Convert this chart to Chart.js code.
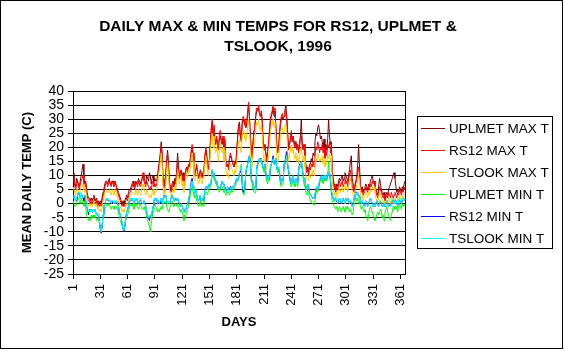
<!DOCTYPE html>
<html>
<head>
<meta charset="utf-8">
<script src="https://cdn.jsdelivr.net/npm/chart.js@4.4.1/dist/chart.umd.min.js"></script>
<style>
  html, body { margin: 0; padding: 0; background: #fff; }
  #chart { display: block; }
</style>
</head>
<body>
<canvas id="chart" width="565" height="351"></canvas>
<script>
// daily values, one line per month (1996, leap year)
const days = Array.from({ length: 366 }, (_, i) => String(i + 1));
const dayTicks = [1, 31, 61, 91, 121, 151, 181, 211, 241, 271, 301, 331, 361];
const yTicks = [40, 35, 30, 25, 20, 15, 10, 5, 0, -5, -10, -15, -20, -25];

const seriesNames = ['UPLMET MAX T', 'RS12 MAX T', 'TSLOOK MAX T', 'UPLMET MIN T', 'RS12 MIN T', 'TSLOOK MIN T'];

const uplmetMax = [
  10,11,7,6,9,8,7,6,8,10,12,14,9,7,8,5,3,2,2,1,2,1,2,3,2,1,2,0,1,0,1,
  0,2,4,5,7,8,8,7,8,9,7,7,8,8,7,8,7,6,5,4,3,2,1,0,1,0,1,2,3,
  2,4,5,5,6,7,8,7,6,8,7,7,9,8,7,8,9,10,9,8,7,10,9,8,11,10,7,9,10,8,9,
  8,8,10,13,15,18,22,18,9,6,5,11,16,19,14,8,6,5,7,8,7,9,8,12,18,13,10,11,12,9,
  11,7,9,12,13,12,14,13,16,18,20,17,12,10,12,13,11,9,10,12,11,10,11,12,16,19,17,13,12,15,21,
  26,29,24,27,22,21,23,22,19,23,24,22,21,23,19,22,15,13,14,13,16,17,16,15,14,13,15,14,19,24,
  28,29,24,22,28,30,29,28,27,28,32,35,30,24,19,17,22,26,28,31,33,33,34,32,31,32,29,22,20,21,18,
  16,19,21,25,29,31,32,34,31,33,27,21,18,20,24,28,30,31,30,31,33,35,31,25,20,21,23,25,22,24,22,
  21,22,20,21,19,21,24,30,22,20,21,18,14,12,13,11,14,14,16,15,18,17,22,25,24,27,28,26,23,24,
  22,20,23,19,21,19,23,30,24,21,22,12,9,7,6,5,7,6,8,9,8,9,10,8,9,11,10,9,8,10,12,
  15,17,9,7,5,7,8,10,14,21,13,7,5,6,4,5,6,7,6,5,7,6,8,9,10,8,8,7,5,4,
  3,6,9,7,5,4,3,4,2,3,4,3,5,6,7,8,9,10,11,9,6,4,5,4,6,5,4,6,5,7,8
];

const rs12Max = [
  8,9,6,5,7,8,6,5,7,8,9,10,7,6,7,4,2,1,1,0,1,0,1,2,1,0,1,-1,0,-1,0,
  -1,1,3,4,6,7,8,6,7,8,7,6,8,7,6,8,7,5,4,3,2,1,0,-1,0,-1,0,1,2,
  1,3,4,4,5,6,7,6,5,8,7,6,8,7,6,7,9,11,8,7,6,8,7,6,5,6,5,7,8,6,7,
  6,7,9,12,14,17,21,17,8,5,4,9,14,18,13,7,5,4,6,7,6,8,7,10,15,12,9,11,12,8,
  10,6,8,12,13,11,14,13,16,19,21,18,11,10,12,14,11,9,10,12,10,9,11,12,17,20,18,13,12,16,22,
  27,30,24,28,23,22,24,21,19,25,26,23,22,24,19,23,15,13,14,12,16,18,17,15,14,13,15,14,18,23,
  27,28,24,23,29,31,30,28,27,29,33,36,31,24,19,16,22,26,28,32,34,33,35,32,31,33,30,22,19,21,17,
  15,19,21,26,30,32,33,35,32,34,28,21,18,20,25,29,31,32,30,31,33,33,30,24,19,21,23,26,22,24,21,
  20,22,19,21,18,20,23,24,20,19,21,17,13,11,12,10,13,12,14,13,15,13,17,20,19,22,21,18,20,19,
  21,18,20,16,19,17,21,20,22,18,21,11,8,6,5,4,6,5,7,8,6,7,8,6,7,9,7,8,6,9,10,
  12,9,6,5,4,6,7,9,11,13,10,6,4,5,3,4,5,6,5,4,6,5,7,6,8,7,8,6,4,3,
  2,4,6,5,4,3,2,3,1,2,3,2,4,3,2,4,3,2,3,4,3,2,4,3,5,4,3,5,4,6,5
];

const tslookMax = [
  6,6,4,3,5,5,4,3,5,6,6,7,5,4,5,2,0,-1,0,-1,0,-1,0,1,0,-1,0,-2,-1,-3,-2,
  -3,-1,1,2,4,4,5,4,4,5,4,3,5,4,3,5,4,3,2,1,0,-1,-2,-3,-2,-3,-2,-1,0,
  -1,1,2,3,3,4,4,4,3,5,4,3,5,4,3,4,6,7,5,4,3,5,4,3,2,3,2,4,5,3,4,
  4,5,7,10,12,15,18,14,6,3,2,7,12,15,10,5,3,2,4,5,4,6,5,8,12,10,7,9,10,6,
  8,4,6,10,11,9,12,11,13,16,18,15,9,8,10,11,9,7,8,10,8,7,9,10,14,17,15,11,10,13,18,
  23,25,20,24,19,18,20,17,15,21,22,19,18,20,15,19,12,10,11,9,13,14,13,12,11,10,12,11,14,19,
  22,23,19,18,24,26,25,23,22,24,28,30,26,19,15,13,18,21,23,27,29,28,30,27,26,28,25,18,15,17,14,
  12,15,17,21,25,27,28,30,27,29,23,17,14,16,20,24,26,27,25,26,28,28,25,19,15,17,19,21,18,20,17,
  16,18,15,17,14,16,19,20,16,15,17,13,10,9,9,8,10,9,11,10,12,10,14,16,15,18,17,15,16,15,
  17,14,16,13,15,14,17,16,18,15,17,8,5,4,3,2,4,3,5,6,4,5,6,4,5,7,5,6,4,6,7,
  9,7,4,3,2,4,5,7,8,10,8,4,2,3,1,2,3,4,3,2,4,3,5,4,6,5,6,4,2,1,
  0,2,4,3,2,1,0,1,-1,0,1,0,2,1,0,2,1,0,1,2,1,0,2,1,3,2,1,3,2,4,4
];

const uplmetMin = [
  1,1,-1,-1,0,2,2,1,0,2,1,0,-1,1,-1,-4,-5,-6,-5,-6,-4,-5,-4,-5,-4,-5,-6,-5,-6,-7,-9,
  -10,-8,-5,-3,-2,-1,0,-1,0,-1,-1,-2,-1,-1,-2,-1,-2,-1,-2,-3,-5,-6,-7,-8,-9,-9.5,-8,-6,-5,
  -4,-3,-1,0,-1,0,-1,-2,0,-1,0,-1,-2,-1,0,-1,-2,-2,-1,-2,-3,-5,-6,-7,-8,-10,-7,-5,-3,-1,0,
  -1,-2,-3,-2,-3,-2,-1,-2,0,1,0,1,-1,-2,-3,-2,-1,0,1,0,-1,0,0,-1,0,-1,-2,-3,-2,-3,
  -4,-6,-5,-4,-3,-2,-1,1,3,5,6,4,3,2,3,1,0,-1,0,1,-1,0,-1,0,3,4,4,3,5,5,6,
  7,10,10,9,8,7,7,5,5,4,5,6,6,5,4,4,3,3,4,4,3,4,5,4,5,5,6,7,8,8,
  9,11,12,14,8,4,3,3,10,12,14,16,17,14,8,7,5,4,4,4,12,13,15,16,15,16,14,12,11,13,10,
  8,7,9,8,12,14,15,16,14,15,16,12,11,12,10,7,6,7,7,13,15,16,17,13,11,9,7,6,7,8,7,
  6,7,7,6,11,13,13,14,12,9,7,6,4,3,5,4,2,1,1,0,0,-0.5,1,3,5,4,5,7,8,9,
  8,7,9,8,9,8,10,15,9,8,3,1,0,-1,-1,-2,-1,-3,-2,-1,-2,-3,-2,-1,-2,-3,-1,-2,-1,-2,-3,
  -2,-3,-4,-3,0,1,2,1,2,0,1,-1,-2,-1,-2,-3,-2,-4,-5,-6,-4,-2,-1,-2,-3,-4,-5,-6,-5,-4,
  -3,-4,-3,-2,-3,-5,-4,-6,-3,-2,-1,-3,-4,-5,-6,-4,-3,-1,-1,-2,-1,-2,-3,-1,0,-1,-2,0,-1,0,-1
];

const rs12Min = [
  2,3,2,1,1,3,4,3,2,3,3,2,1,3,1,-1,-2,-4,-2,-3,-2,-3,-3,-3,-2,-3,-4,-4,-4,-6,-9,
  -10.5,-8,-4,-1,0,1,2,1,1,1,1,0,1,0,0,1,0,1,0,-1,-3,-4,-5,-7,-9,-10,-8,-5,-3,
  -2,-1,1,1,1,2,1,0,1,1,2,1,0,1,1,1,0,0,1,0,-1,-3,-4,-5,-6,-4,-5,-3,-1,1,2,
  1,2,0,1,0,0,2,0,2,3,2,3,1,0,0,0,1,2,3,2,1,1,2,1,2,1,0,-1,0,-1,
  -2,-3,-3,-2,-1,0,1,3,5,8,9,6,5,4,5,3,2,1,2,3,1,2,1,2,5,6,6,5,7,6,7,
  8,12,11,10,9,8,8,6,6,5,6,7,8,7,6,6,5,4,6,5,5,6,6,5,6,6,7,8,9,8,
  9,11,11,12,7,4,5,6,11,13,14,16,17,15,9,8,7,5,6,5,13,14,15,16,16,16,14,13,12,14,11,
  9,9,10,9,13,14,15,17,14,15,16,13,12,13,11,8,7,9,8,14,15,17,18.5,14,12,10,8,7,9,10,8,
  7,9,8,7,12,14,14,15,13,10,9,8,6,5,7,6,4,3,3,2,2,2,3,5,6,5,6,8,9,10,
  9,8,10,9,10,9,11,10,11,9,5,3,2,1,2,1,1,0,1,2,1,0,1,2,1,0,2,1,2,1,0,
  1,0,-1,0,2,3,4,4,4,2,3,1,0,1,0,-1,0,1,0,-1,0,1,2,1,0,-1,0,-1,0,1,
  0,-1,0,1,0,-1,-1,0,-1,0,1,0,-1,0,-1,0,1,1,1,0,1,0,-1,1,1,1,0,1,1,2,1
];

const tslookMin = [
  2,3,2,1,2,3,4,3,2,4,3,2,2,3,1,-1,-2,-3,-2,-3,-2,-3,-2,-3,-2,-3,-4,-3,-4,-6,-9,
  -10,-8,-4,-1,0,1,2,1,2,1,1,0,1,1,0,1,0,1,0,-1,-3,-4,-5,-7,-9,-9.5,-8,-5,-3,
  -2,-1,1,2,1,2,1,0,2,1,2,1,0,1,2,1,0,0,1,0,-1,-3,-4,-5,-5,-4,-5,-3,-1,1,2,
  1,2,0,1,0,1,2,0,2,3,2,3,1,0,1,0,1,2,3,2,1,2,2,1,2,1,0,-1,0,-1,
  -2,-3,-3,-2,-1,0,1,3,5,7,8,6,5,4,5,3,2,1,2,3,1,2,1,2,5,6,6,5,7,6,7,
  8,12,11,10,9,8,8,6,6,5,6,7,8,7,6,5,5,4,6,5,4,5,6,5,6,6,7,8,9,8,
  9,11,12,13,8,5,5,6,11,13,14,16,17,15,9,8,7,5,6,5,13,14,15,16,15,16,14,13,12,14,11,
  9,8,10,9,13,14,15,16,14,15,16,13,12,13,11,8,7,9,8,14,15,16,17,14,12,10,8,7,9,10,8,
  7,9,8,7,12,13,14,15,13,10,9,8,6,5,7,6,4,3,3,2,2,2,3,5,6,5,6,8,9,10,
  9,8,10,9,10,9,11,10,11,9,5,3,2,1,2,1,2,0,1,2,1,0,1,2,1,0,2,1,2,1,0,
  1,0,-1,0,2,3,4,3,4,2,3,1,0,1,0,-1,0,1,0,-1,0,1,2,1,0,-1,0,-1,0,1,
  0,-1,0,1,0,-1,-1,0,-1,0,1,0,-1,0,-1,0,1,2,1,0,1,0,-1,1,2,1,0,2,1,2,1
];

const seriesColors = ['#800000', '#ff0000', '#ffcc00', '#00ff00', '#0000ff', '#00ffff'];
const seriesData = [uplmetMax, rs12Max, tslookMax, uplmetMin, rs12Min, tslookMin];

const FONT = "Arial, 'Liberation Sans', sans-serif";

// title, legend box and frames drawn by hand to match the old spreadsheet look
const decorations = {
    id: 'decorations',
    afterDraw(chart) {
        const { ctx, chartArea: { right, top, bottom } } = chart;
        ctx.save();
        ctx.strokeStyle = '#000';
        ctx.lineWidth = 1;

        // right edge of plot area
        ctx.beginPath();
        ctx.moveTo(Math.round(right) + 0.5, top);
        ctx.lineTo(Math.round(right) + 0.5, bottom);
        ctx.stroke();

        // outer frame
        ctx.strokeRect(0.5, 0.5, 562, 348);

        // title
        ctx.fillStyle = '#000';
        ctx.font = `bold 15.5px ${FONT}`;
        ctx.textAlign = 'center';
        ctx.textBaseline = 'middle';
        ctx.fillText('DAILY MAX & MIN TEMPS FOR RS12, UPLMET &', 278, 27);
        ctx.fillText('TSLOOK, 1996', 278, 47);

        // legend
        ctx.strokeRect(417.5, 116.5, 135, 132);
        ctx.font = `13.5px ${FONT}`;
        ctx.textAlign = 'left';
        chart.data.datasets.forEach((ds, i) => {
            const y = 128.5 + i * 22;
            ctx.strokeStyle = ds.borderColor;
            ctx.beginPath();
            ctx.moveTo(421, y);
            ctx.lineTo(445, y);
            ctx.stroke();
            ctx.fillStyle = '#000';
            ctx.fillText(ds.label, 449, y + 1);
        });
        ctx.restore();
    }
};

new Chart(document.getElementById('chart'), {
    type: 'line',
    data: {
        labels: days,
        datasets: seriesData.map((data, i) => ({
            label: seriesNames[i],
            data,
            borderColor: seriesColors[i],
            backgroundColor: seriesColors[i],
            borderWidth: 1,
            pointRadius: 0,
            tension: 0,
            fill: false,
            order: seriesData.length - i
        }))
    },
    options: {
        responsive: false,
        animation: false,
        layout: { padding: { left: 0, right: 160, top: 91, bottom: 0 } },
        plugins: {
            legend: { display: false },
            title: { display: false },
            tooltip: { enabled: false }
        },
        scales: {
            x: {
                type: 'category',
                offset: false,
                border: { color: '#000', width: 1 },
                grid: { drawOnChartArea: false, drawTicks: true, tickLength: 5, color: '#000' },
                ticks: {
                    autoSkip: false,
                    minRotation: 90,
                    maxRotation: 90,
                    padding: 5,
                    color: '#000',
                    font: { family: FONT, size: 13 },
                    callback: (val, i) => dayTicks.includes(i + 1) ? days[i] : null
                },
                title: {
                    display: true,
                    text: 'DAYS',
                    color: '#000',
                    font: { family: FONT, size: 13, weight: 'bold' },
                    padding: { top: 0, bottom: 21 }
                },
                afterFit: s => { s.height = 77; }
            },
            y: {
                min: -25,
                max: 40,
                border: { color: '#000', width: 1 },
                grid: { color: '#000', tickLength: 5 },
                afterBuildTicks: s => { s.ticks = yTicks.map(v => ({ value: v })); },
                ticks: {
                    autoSkip: false,
                    padding: 4,
                    color: '#000',
                    font: { family: FONT, size: 14 }
                },
                title: {
                    display: true,
                    text: 'MEAN DAILY TEMP (C)',
                    color: '#000',
                    font: { family: FONT, size: 13, weight: 'bold' },
                    padding: { top: 20, bottom: 0 }
                },
                afterFit: s => { s.width = 73; }
            }
        }
    },
    plugins: [decorations]
});
</script>
</body>
</html>
